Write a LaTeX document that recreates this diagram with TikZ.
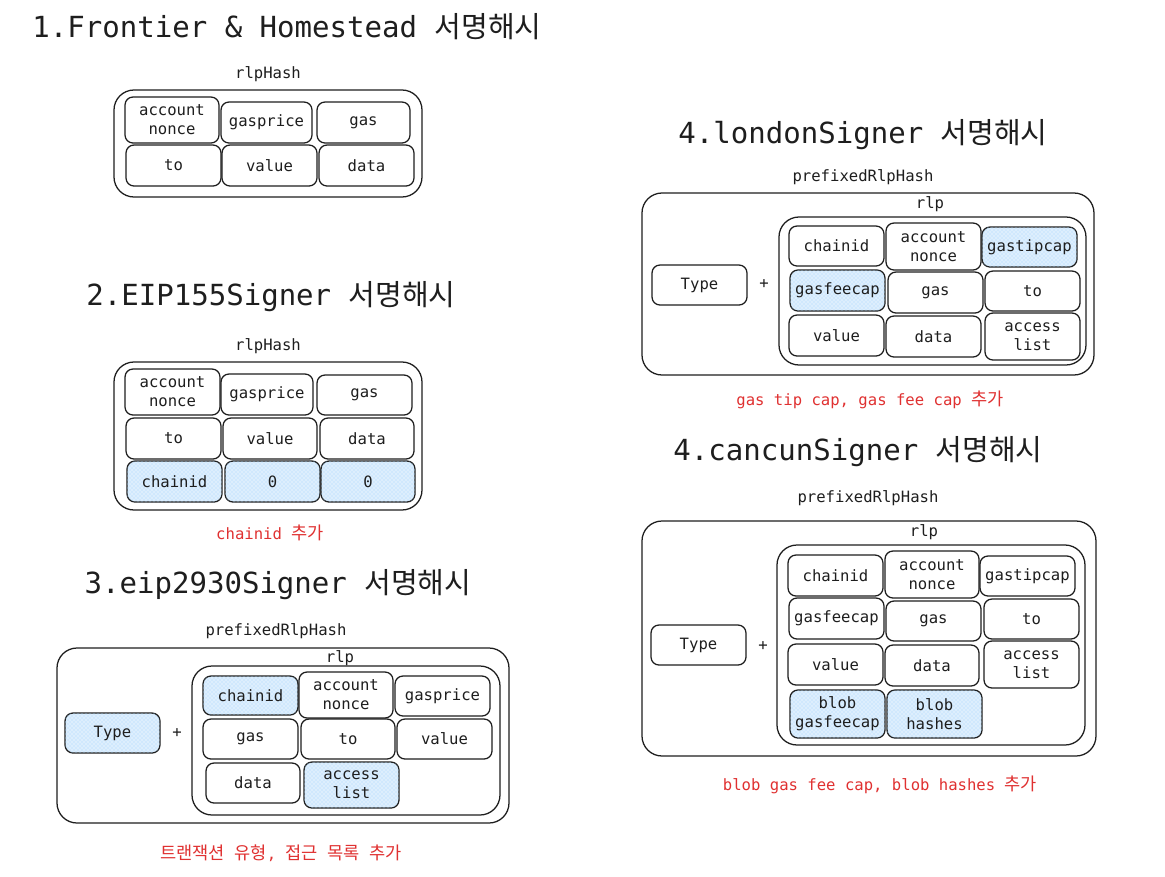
\documentclass[tikz,border=0pt]{standalone}
\usepackage{fontspec}
\setmainfont{DejaVu Sans Mono}
\newfontfamily\kr{Noto Sans CJK KR}
\usetikzlibrary{patterns}
\definecolor{ink}{HTML}{1E1E1E}
\definecolor{redtxt}{HTML}{E03131}
\definecolor{hatchbg}{HTML}{DDEEFD}
\definecolor{hatchfg}{HTML}{A5D8FF}
\newcommand\cb[7]{%
  \pgfmathsetmacro\cbw{(#4-#2)*0.75}\pgfmathsetmacro\cbh{(#5-#3)*0.75}%
  \node[cell,#6,minimum width=\cbw pt,minimum height=\cbh pt] (#1) at ({(#2+#4)/2},{(#3+#5)/2}) {#7};}
\newcommand\ob[6]{%
  \pgfmathsetmacro\cbw{(#4-#2)*0.75}\pgfmathsetmacro\cbh{(#5-#3)*0.75}%
  \node[outer,#6,minimum width=\cbw pt,minimum height=\cbh pt] (#1) at ({(#2+#4)/2},{(#3+#5)/2}) {};}
\newcommand\kn[1]{{\kr\fontsize{13.2}{15}\selectfont #1}}
\tikzset{
 cell/.style={draw=ink, line width=0.95pt, rounded corners=6pt, inner sep=0pt, align=center, text=ink, font=\fontsize{11.7}{14.2}\selectfont},
 hatch/.style={fill=hatchbg, postaction={pattern=crosshatch dots, pattern color=hatchfg}},
 pl/.style={},
 outer/.style={draw=ink, line width=0.95pt, rounded corners=15pt, inner sep=0pt},
 title/.style={text=ink, font=\fontsize{21.8}{24}\selectfont, inner sep=0pt},
 lbl/.style={text=ink, font=\fontsize{11.7}{14}\selectfont, inner sep=0pt},
 note/.style={text=redtxt, font=\fontsize{11.7}{14}\selectfont, inner sep=0pt},
}
\begin{document}
\begin{tikzpicture}[x=0.75pt,y=-0.75pt]
\useasboundingbox[fill=white] (0,0) rectangle (1165,876);
% ---------- 1 ----------
\node[title] (t1) at (287,27) {1.Frontier \& Homestead {\kr 서명해시}};
\node[lbl] (h1) at (268,74) {rlpHash};
\ob{o1}{114}{90}{422}{197}{}
\cb{s1a}{125}{97}{219}{143}{pl}{account\\nonce}
\cb{s1b}{221}{102}{312}{143}{pl}{gasprice}
\cb{s1c}{317}{102}{410}{143}{pl}{gas}
\cb{s1d}{126}{145}{221}{186}{pl}{to}
\cb{s1e}{222}{145}{317}{186}{pl}{value}
\cb{s1f}{319}{145}{414}{186}{pl}{data}
% ---------- 2 ----------
\node[title] (t2) at (271,297) {2.EIP155Signer {\kr 서명해시}};
\node[lbl] (h2) at (268,346) {rlpHash};
\ob{o2}{114}{362}{422}{510}{}
\cb{s2a}{125}{369}{220}{415}{pl}{account\\nonce}
\cb{s2b}{221}{374}{313}{415}{pl}{gasprice}
\cb{s2c}{317}{375}{412}{415}{pl}{gas}
\cb{s2d}{126}{418}{221}{459}{pl}{to}
\cb{s2e}{223}{418}{317}{459}{pl}{value}
\cb{s2f}{320}{418}{414}{459}{pl}{data}
\cb{s2g}{127}{461}{222}{502}{hatch}{chainid}
\cb{s2h}{225}{461}{320}{502}{hatch}{0}
\cb{s2i}{321}{461}{415}{502}{hatch}{0}
\node[note] (n2) at (270,533) {chainid \kn{추가}};
% ---------- 3 ----------
\node[title] (t3) at (278,585) {3.eip2930Signer {\kr 서명해시}};
\node[lbl] (h3) at (276,631) {prefixedRlpHash};
\ob{o3}{57}{648}{509}{823}{}
\node[lbl] (r3) at (340,658) {rlp};
\ob{i3}{192}{666}{500}{815}{}
\cb{ty3}{65}{713}{160}{753}{hatch}{Type}
\node[lbl] (p3) at (177,733) {+};
\cb{s3a}{203}{676}{298}{715}{hatch}{chainid}
\cb{s3b}{299}{672}{393}{718}{pl}{account\\nonce}
\cb{s3c}{395}{676}{490}{716}{pl}{gasprice}
\cb{s3d}{203}{719}{298}{759}{pl}{gas}
\cb{s3e}{301}{719}{395}{759}{pl}{to}
\cb{s3f}{397}{719}{492}{759}{pl}{value}
\cb{s3g}{206}{763}{300}{803}{pl}{data}
\cb{s3h}{304}{762}{399}{808}{hatch}{access\\list}
\node[note] (n3) at (281,853) {\kn{트랜잭션} \kn{유형}, \kn{접근} \kn{목록} \kn{추가}};
% ---------- 4 london ----------
\node[title] (t4) at (863,135) {4.londonSigner {\kr 서명해시}};
\node[lbl] (h4) at (863,177) {prefixedRlpHash};
\ob{o4}{642}{193}{1094}{375}{}
\node[lbl] (r4) at (930,204) {rlp};
\ob{i4}{779}{217}{1086}{365}{}
\cb{ty4}{652}{265}{747}{305}{pl}{Type}
\node[lbl] (p4) at (764,284) {+};
\cb{s4a}{789}{226}{884}{266}{pl}{chainid}
\cb{s4b}{886}{223}{981}{270}{pl}{account\\nonce}
\cb{s4c}{982}{227}{1077}{267}{hatch}{gastipcap}
\cb{s4d}{790}{270}{885}{311}{hatch}{gasfeecap}
\cb{s4e}{888}{272}{983}{313}{pl}{gas}
\cb{s4f}{985}{271}{1080}{311}{pl}{to}
\cb{s4g}{789}{315}{884}{356}{pl}{value}
\cb{s4h}{886}{316}{981}{357}{pl}{data}
\cb{s4i}{985}{313}{1080}{360}{pl}{access\\list}
\node[note] (n4) at (870,400) {gas tip cap, gas fee cap \kn{추가}};
% ---------- 4 cancun ----------
\node[title] (t5) at (858,452) {4.cancunSigner {\kr 서명해시}};
\node[lbl] (h5) at (868,498) {prefixedRlpHash};
\ob{o5}{642}{521}{1096}{756}{}
\node[lbl] (r5) at (924,532) {rlp};
\ob{i5}{777}{545}{1085}{745}{}
\cb{ty5}{651}{625}{746}{665}{pl}{Type}
\node[lbl] (p5) at (763,646) {+};
\cb{s5a}{788}{555}{883}{596}{pl}{chainid}
\cb{s5b}{885}{551}{979}{598}{pl}{account\\nonce}
\cb{s5c}{980}{556}{1075}{596}{pl}{gastipcap}
\cb{s5d}{789}{598}{884}{639}{pl}{gasfeecap}
\cb{s5e}{886}{601}{981}{641}{pl}{gas}
\cb{s5f}{984}{599}{1079}{639}{pl}{to}
\cb{s5g}{788}{644}{883}{685}{pl}{value}
\cb{s5h}{885}{645}{979}{686}{pl}{data}
\cb{s5i}{984}{641}{1079}{688}{pl}{access\\list}
\cb{s5j}{790}{690}{885}{738}{hatch}{blob\\gasfeecap}
\cb{s5k}{887}{690}{982}{738}{hatch}{blob\\hashes}
\node[note] (n5) at (880,785) {blob gas fee cap, blob hashes \kn{추가}};
\end{tikzpicture}
\end{document}
